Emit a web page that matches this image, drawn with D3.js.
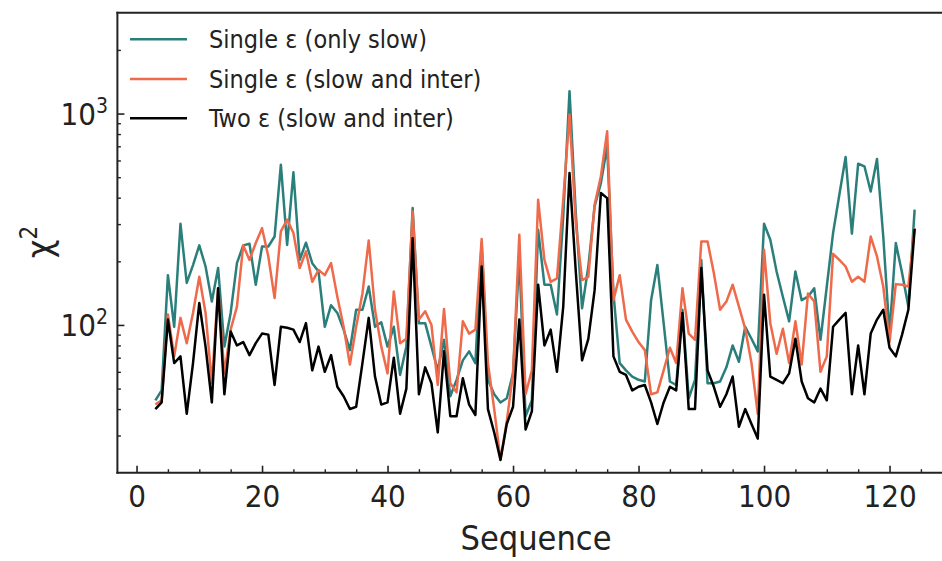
<!DOCTYPE html>
<html><head><meta charset="utf-8">
<script src="https://cdn.jsdelivr.net/npm/d3@7"></script>
<style>
body{margin:0;background:#fff;}
svg text{font-family:"DejaVu Sans Condensed","DejaVu Sans",sans-serif;font-stretch:condensed;fill:#222;}
</style></head><body>
<svg id="c" width="942" height="561"></svg>
<script>
// Sequence numbers 3..124
const sequence = d3.range(3, 125);

const singleOnlySlow = [44,49,172,98,301,158,192,238,189,129,186,79,114,196,238,
 242,155,235,235,262,573,239,527,203,245,196,179,98,124,114,
 95,76,118,118,152,98,103,79,98,58,79,357,102,102,79,
 61,85,46,55,68,75,66,244,55,47,43,45,59,211,37,
 44,282,155,155,112,326,1276,338,120,189,364,469,700,141,66,
 61,57,55,54,131,192,102,54,52,118,45,55,203,53,53,54,
 63,80,67,98,86,75,301,253,179,136,104,179,131,136,149,
 85,152,272,413,623,270,579,563,428,610,262,91,244,176,122,351];

const singleSlowInter = [42,44,112,71,108,82,114,169,114,53,149,59,95,122,238,
 203,244,287,211,134,277,315,272,186,223,160,182,172,196,136,
 98,65,98,141,251,118,79,59,144,82,86,344,106,116,100,
 52,119,53,48,104,91,95,255,66,40,23,35,59,267,47,
 61,391,203,160,166,391,990,303,163,169,370,505,824,131,172,
 106,93,83,76,47,48,61,78,66,149,91,85,248,248,176,118,
 129,155,122,96,66,38,227,102,73,96,66,104,65,141,129,
 60,71,217,203,189,160,169,160,262,211,152,83,156,155,152,288];

const twoSlowInter = [40,43,106,66,71,38,66,127,79,43,149,47,93,80,83,
 72,82,91,90,52,98,97,95,83,102,61,79,60,72,51,
 46,40,41,66,108,57,42,43,70,38,50,257,47,63,53,
 31,75,37,37,56,42,37.5,189,40,31,23,34,41,106,32,
 39,155,80,95,60,122,524,179,68,86,146,421,398,71,60,
 58,49,51,52,43,34,43,51,49,114,40,40,186,61,51,41,
 47,57,33,40,34,29,139,57,55,53,59,86,54,45,43,
 50,44,98,106,114,47,80,47,91,106,118,78,71,90,118,285];

const seriesNames = ["Single \u03b5 (only slow)", "Single \u03b5 (slow and inter)", "Two \u03b5 (slow and inter)"];
const seriesColors = ["#2b7f7b", "#ee6a4b", "#000000"];
const xTickValues = [0,20,40,60,80,100,120];
const xMinorTicks = [5,10,15,25,30,35,45,50,55,65,70,75,85,90,95,105,110,115,125,130];
const yMajorTicks = [100, 1000];
const yMajorExp = ["2", "3"];
const yMinorTicks = [30,40,50,60,70,80,90,200,300,400,500,600,700,800,900,2000];

const allSeries = [singleOnlySlow, singleSlowInter, twoSlowInter];

const L = 117.4, R = 952.6, T = 12.7, B = 472.7;
const x = d3.scaleLinear().domain([-3.05, 130.05]).range([L, R]);
const y = d3.scaleLog().domain([20, 3000]).range([B, T]);

const svg = d3.select("#c");
svg.append("defs").append("clipPath").attr("id","clip")
  .append("rect").attr("x",L).attr("y",T).attr("width",R-L).attr("height",B-T);

const g = svg.append("g").attr("clip-path","url(#clip)");
const line = d3.line().x((d,i)=>x(sequence[i])).y(d=>y(d));
allSeries.forEach((s,k)=>{
  g.append("path").datum(s).attr("d",line).attr("fill","none")
   .attr("stroke",seriesColors[k]).attr("stroke-width",2.5)
   .attr("stroke-linejoin","round").attr("stroke-linecap","butt");
});

// X axis ticks (inward)
const xAxis = svg.append("g").attr("transform",`translate(0,${B})`)
  .call(d3.axisBottom(x).tickValues(xTickValues).tickSize(-7).tickPadding(12).tickFormat(d3.format("d")));
xAxis.select(".domain").remove();
xAxis.selectAll("line").attr("stroke","#222").attr("stroke-width",1.6);
xAxis.selectAll("text").attr("font-size",31).style("fill","#222");
const xMinor = svg.append("g").attr("transform",`translate(0,${B})`)
  .call(d3.axisBottom(x).tickValues(xMinorTicks).tickSize(-3.5).tickFormat(""));
xMinor.select(".domain").remove();
xMinor.selectAll("line").attr("stroke","#222").attr("stroke-width",1.4);

// Y axis ticks (inward)
const yAxis = svg.append("g").attr("transform",`translate(${L},0)`)
  .call(d3.axisLeft(y).tickValues(yMajorTicks).tickSize(-7).tickFormat(""));
yAxis.select(".domain").remove();
yAxis.selectAll("line").attr("stroke","#222").attr("stroke-width",1.6);
const yMinor = svg.append("g").attr("transform",`translate(${L},0)`)
  .call(d3.axisLeft(y).tickValues(yMinorTicks).tickSize(-3.5).tickFormat(""));
yMinor.select(".domain").remove();
yMinor.selectAll("line").attr("stroke","#222").attr("stroke-width",1.4);

yMajorTicks.forEach((v,i)=>{
  const t = svg.append("text").attr("x",108).attr("y",y(v)+11)
    .attr("text-anchor","end").attr("font-size",31);
  t.append("tspan").text("10");
  t.append("tspan").attr("dy",-12).attr("font-size",21).text(yMajorExp[i]);
});

// spines
svg.append("line").attr("x1",L).attr("x2",L).attr("y1",T-1).attr("y2",B+1).attr("stroke","#222").attr("stroke-width",2);
svg.append("line").attr("x1",L-1).attr("x2",942).attr("y1",B).attr("y2",B).attr("stroke","#222").attr("stroke-width",2);
svg.append("line").attr("x1",L-1).attr("x2",942).attr("y1",T).attr("y2",T).attr("stroke","#222").attr("stroke-width",2);

// axis labels
svg.append("text").attr("x",536).attr("y",550).attr("text-anchor","middle").attr("font-size",34).text("Sequence");
const yl = svg.append("text").attr("transform","translate(52,242) rotate(-90)").attr("text-anchor","middle").attr("font-size",36);
yl.append("tspan").text("\u03c7");
yl.append("tspan").attr("dy",-15).attr("font-size",24).text("2");

// legend
const legY = [39.3, 79, 118.3];
seriesNames.forEach((n,i)=>{
  svg.append("line").attr("x1",130).attr("x2",187).attr("y1",legY[i]).attr("y2",legY[i])
    .attr("stroke",seriesColors[i]).attr("stroke-width",2.5);
  svg.append("text").attr("x",209).attr("y",legY[i]+8.5).attr("font-size",25).text(n);
});
</script>
</body></html>
